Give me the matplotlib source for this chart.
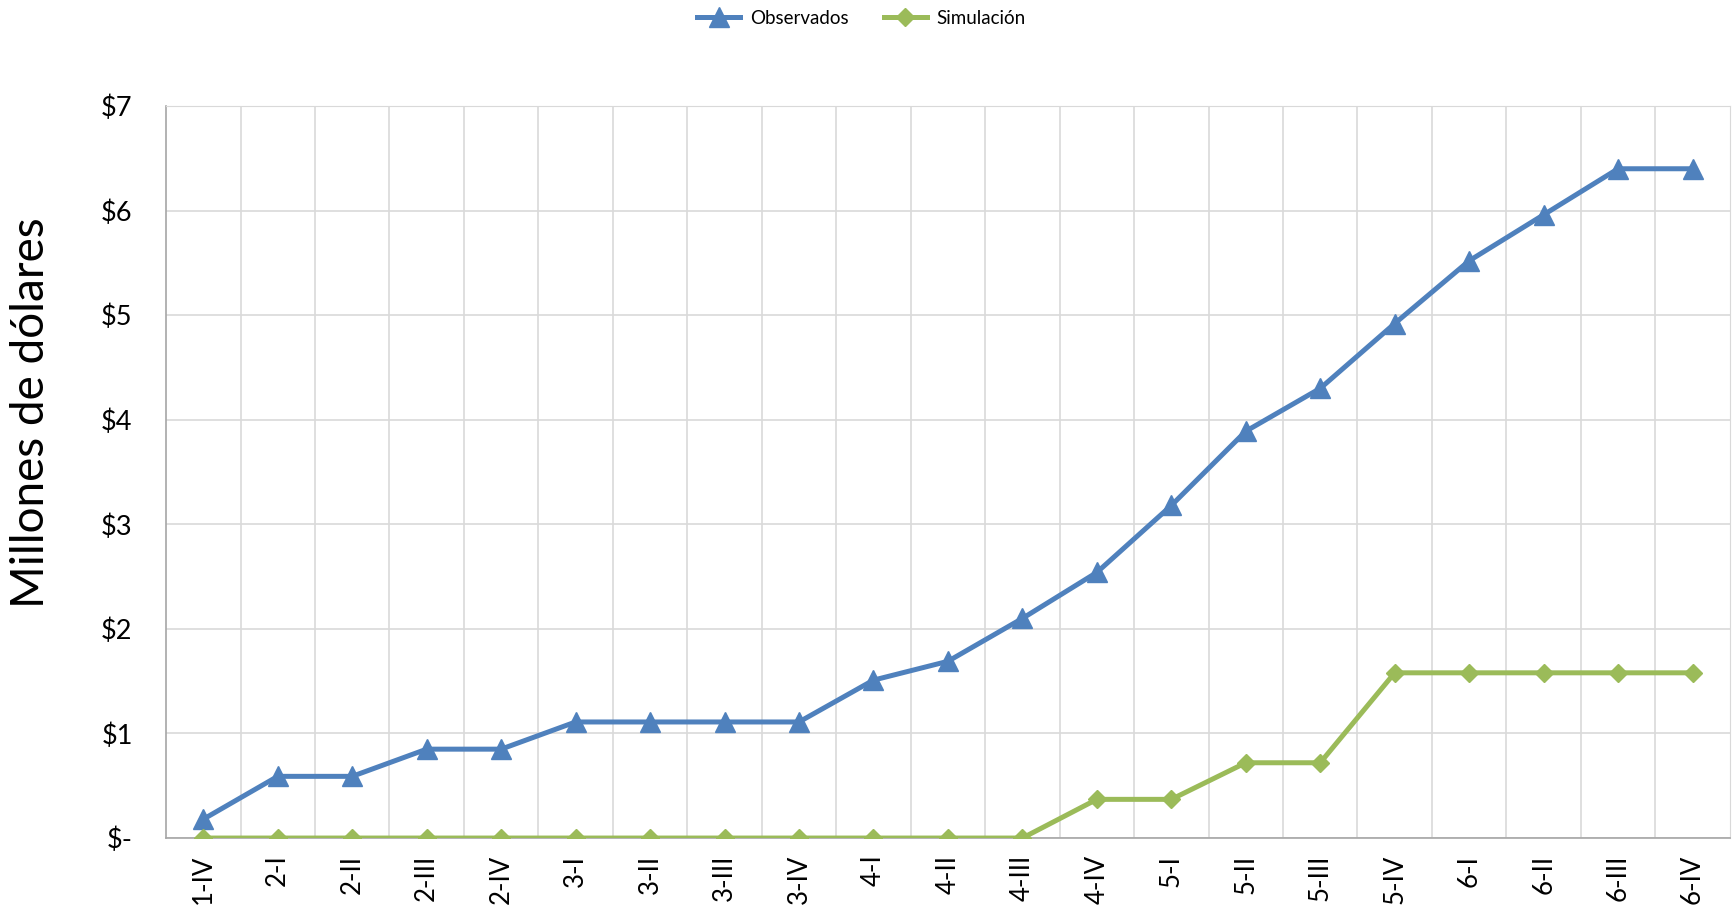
import numpy as np
import matplotlib.pyplot as plt
from matplotlib.ticker import FixedLocator

# Datos
periodos = ["1-IV", "2-I", "2-II", "2-III", "2-IV", "3-I", "3-II", "3-III", "3-IV",
            "4-I", "4-II", "4-III", "4-IV", "5-I", "5-II", "5-III", "5-IV",
            "6-I", "6-II", "6-III", "6-IV"]
observados = [0.18, 0.59, 0.59, 0.85, 0.85, 1.11, 1.11, 1.11, 1.11,
              1.51, 1.69, 2.10, 2.54, 3.18, 3.89, 4.30, 4.92,
              5.52, 5.96, 6.40, 6.40]
simulacion = [0, 0, 0, 0, 0, 0, 0, 0, 0,
              0, 0, 0, 0.37, 0.37, 0.72, 0.72, 1.58,
              1.58, 1.58, 1.58, 1.58]
y_ticks = [0, 1, 2, 3, 4, 5, 6, 7]
y_labels = ["$-", "$1", "$2", "$3", "$4", "$5", "$6", "$7"]

plt.rcParams['font.family'] = ['Lato', 'DejaVu Sans']

fig = plt.figure(figsize=(17.35, 9.06), dpi=100)
ax = fig.add_axes([0.0957, 0.075, 0.9013, 0.808])

x = np.arange(len(periodos))
ax.plot(x, observados, color='#4F81BD', lw=3.6, marker='^', ms=14,
        label='Observados', zorder=3)
ax.plot(x, simulacion, color='#9BBB59', lw=3.6, marker='D', ms=9.5,
        label='Simulación', zorder=3)

ax.set_xlim(-0.5, len(periodos) - 0.5)
ax.set_ylim(0, 7)
ax.set_xticks(x)
ax.set_xticklabels(periodos, rotation=90, fontsize=18.5)
ax.xaxis.set_minor_locator(FixedLocator(x[:-1] + 0.5))
ax.set_yticks(y_ticks)
ax.set_yticklabels(y_labels, fontsize=19.5)
ax.tick_params(axis='y', which='both', length=0, pad=24)
ax.tick_params(axis='x', which='both', length=0, pad=12)

ax.grid(True, axis='y', which='major', color='#D9D9D9', lw=1.2)
ax.grid(True, axis='x', which='minor', color='#D9D9D9', lw=1.2)
ax.set_axisbelow(True)
for s in ['top', 'right']:
    ax.spines[s].set_color('#D9D9D9')
for s in ['left', 'bottom']:
    ax.spines[s].set_color('#A6A6A6')
    ax.spines[s].set_linewidth(1.2)

fig.text(0.018, 0.545, 'Millones de dólares', rotation=90, fontsize=33,
         ha='center', va='center')

fig.legend(loc='upper center', bbox_to_anchor=(0.4965, 1.008), ncol=2,
           frameon=False, fontsize=13.5, handlelength=2.3, columnspacing=1.9,
           handletextpad=0.5)

fig.savefig('out.png', dpi=100)
